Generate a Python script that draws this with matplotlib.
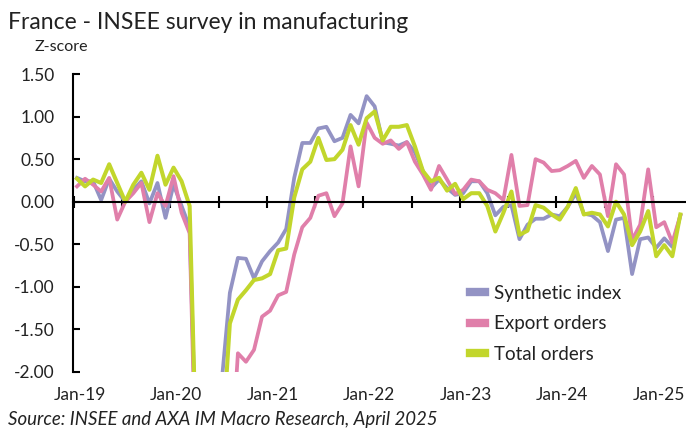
import numpy as np
import matplotlib.pyplot as plt
from matplotlib.transforms import blended_transform_factory

plt.rcParams['font.family'] = ['Lato', 'DejaVu Sans']

# Monthly z-scores, Jan-19 .. Apr-25
synthetic = [0.28, 0.24, 0.24, 0.02, 0.27, 0.12, 0.00, 0.14, 0.24, -0.02, 0.22, -0.19,
             0.20, -0.05, -0.30, -3.6, -3.8, -3.0, -2.1, -1.07, -0.66, -0.67, -0.90, -0.70,
             -0.58, -0.48, -0.32, 0.28, 0.69, 0.69, 0.86, 0.88, 0.71, 0.75, 1.02, 0.92,
             1.24, 1.12, 0.70, 0.68, 0.66, 0.70, 0.58, 0.36, 0.16, 0.26, 0.16, 0.08,
             0.10, 0.24, 0.24, 0.10, -0.16, -0.06, -0.04, -0.44, -0.27, -0.20, -0.20, -0.15,
             -0.17, -0.06, 0.10, -0.14, -0.16, -0.24, -0.58, -0.21, -0.19, -0.85, -0.44, -0.42,
             -0.54, -0.43, -0.53, -0.16]
export_orders = [0.18, 0.27, 0.20, 0.12, 0.28, -0.21, 0.00, 0.10, 0.22, -0.24, 0.10, -0.05,
                 0.30, -0.13, -0.37, -4.0, -4.2, -3.8, -3.6, -3.3, -1.78, -1.88, -1.74, -1.35,
                 -1.28, -1.10, -1.06, -0.62, -0.30, -0.19, 0.07, 0.10, -0.17, -0.02, 0.65, 0.18,
                 0.93, 0.75, 0.68, 0.72, 0.62, 0.70, 0.47, 0.32, 0.14, 0.42, 0.26, 0.09,
                 0.14, 0.26, 0.24, 0.14, 0.10, 0.02, 0.55, -0.05, -0.04, 0.50, 0.46, 0.36,
                 0.37, 0.42, 0.48, 0.28, 0.42, 0.32, -0.17, 0.44, 0.32, -0.45, -0.27, 0.38,
                 -0.30, -0.24, -0.48, -0.16]
total_orders = [0.27, 0.18, 0.26, 0.22, 0.44, 0.22, 0.00, 0.20, 0.34, 0.14, 0.54, 0.20,
                0.40, 0.24, -0.05, -3.6, -3.9, -3.3, -2.9, -1.43, -1.15, -1.04, -0.92, -0.90,
                -0.85, -0.57, -0.55, 0.05, 0.38, 0.47, 0.75, 0.49, 0.50, 0.61, 0.90, 0.67,
                0.98, 1.06, 0.72, 0.88, 0.88, 0.90, 0.65, 0.36, 0.24, 0.28, 0.13, 0.21,
                0.03, 0.10, 0.10, -0.05, -0.35, -0.13, 0.12, -0.39, -0.34, -0.04, -0.07, -0.15,
                -0.21, -0.06, 0.16, -0.15, -0.13, -0.15, -0.29, 0.00, -0.15, -0.51, -0.35, -0.11,
                -0.64, -0.51, -0.64, -0.15]
year_labels = ['Jan-19', 'Jan-20', 'Jan-21', 'Jan-22', 'Jan-23', 'Jan-24', 'Jan-25']

months = np.arange(len(synthetic))

fig = plt.figure(figsize=(6.86, 4.32), dpi=100)
ax = fig.add_axes([0.1064, 0.1389, 0.8936, 0.6898])

ax.plot(months, synthetic, color='#9393C4', lw=2.7, label='Synthetic index')
ax.plot(months, export_orders, color='#E07FAA', lw=2.7, label='Export orders')
ax.plot(months, total_orders, color='#C2D62C', lw=2.9, label='Total orders')

ax.set_xlim(-0.5, 75.7)
ax.set_ylim(-2.0, 1.5)

# y axis
ax.set_yticks(np.arange(-2.0, 1.51, 0.5))
ax.set_yticklabels([f'{v:.2f}' for v in np.arange(-2.0, 1.51, 0.5)])
ax.tick_params(axis='y', direction='in', length=5, width=1.5, pad=13,
               labelsize=12.5, labelcolor='#222222')
ax.spines['left'].set_linewidth(1.5)

# x axis line at zero, ticks every 6 months
ax.spines['bottom'].set_position(('data', 0))
ax.spines['bottom'].set_linewidth(1.5)
ax.spines['top'].set_visible(False)
ax.spines['right'].set_visible(False)
ax.set_xticks(np.arange(0, 76, 6) - 0.4)
ax.tick_params(axis='x', direction='inout', length=9, width=1.5, labelbottom=False)

trans = blended_transform_factory(ax.transData, ax.transAxes)
for i, lab in enumerate(year_labels):
    ax.text(i * 12 + 0.3, -0.077, lab, transform=trans, ha='center', va='center',
            fontsize=12.5, color='#222222')

leg = ax.legend(loc='lower left', bbox_to_anchor=(0.62, -0.025), frameon=False,
                fontsize=13.5, handlelength=0.8, handletextpad=0.5, labelspacing=0.72)
for h in leg.legend_handles:
    h.set_linewidth(6)
for t in leg.get_texts():
    t.set_color('#222222')

fig.text(0.012, 0.948, 'France - INSEE survey in manufacturing', fontsize=16.5,
         color='#222222', va='center', ha='left')
fig.text(0.051, 0.891, 'Z-score', fontsize=11.5, color='#222222', va='center', ha='left')
fig.text(0.012, 0.028, 'Source: INSEE and AXA IM Macro Research, April 2025', fontsize=13.4,
         style='italic', color='#222222', va='center', ha='left')

fig.savefig('out.png', dpi=100)
